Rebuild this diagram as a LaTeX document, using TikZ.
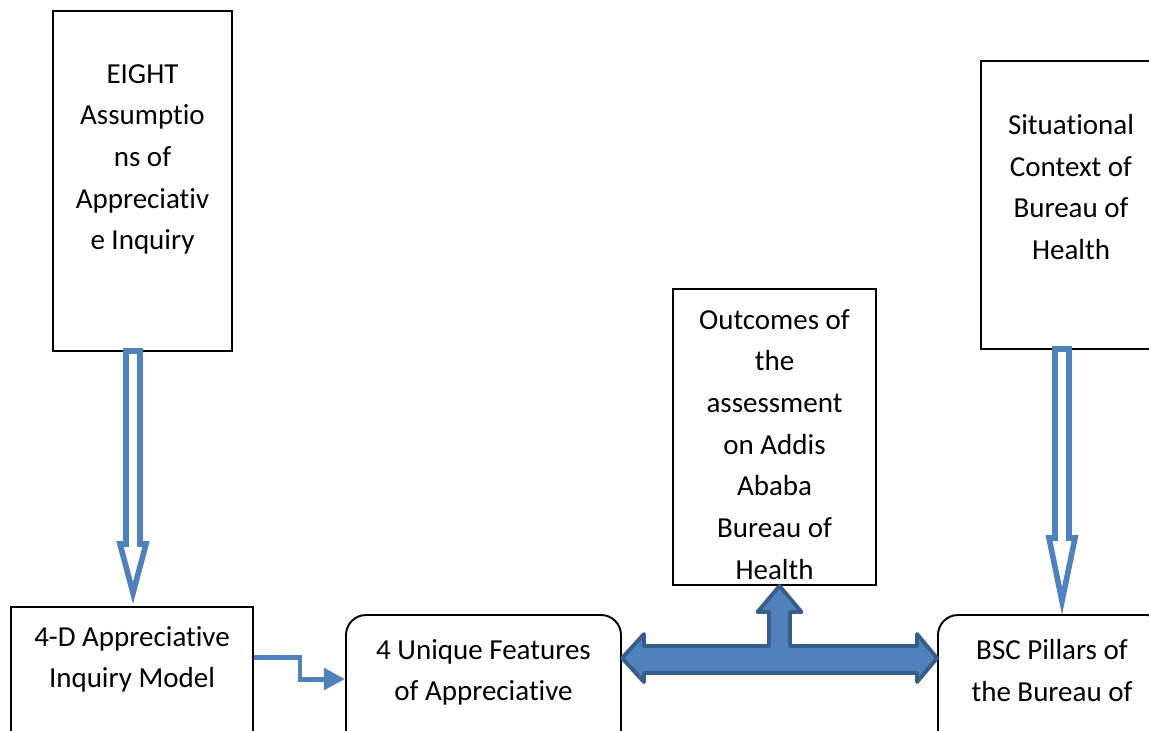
\documentclass[tikz,border=0pt]{standalone}
\usepackage{fontspec}
\setmainfont{Carlito}[RawFeature={-liga,-clig,-calt}]
\usetikzlibrary{arrows.meta,calc}

\definecolor{arrowblue}{HTML}{4F81BD}
\definecolor{arrowedge}{HTML}{385D8A}
\newcommand\pxl{0.02cm}
\newcommand\boxfont{\fontsize{16.5}{23.7}\selectfont}
\tikzset{
  plainbox/.style={draw, line width=1.1pt, inner sep=0pt},
  roundbox/.style={plainbox, rounded corners=0.4cm},
  boxtext/.style={anchor=north, align=center, inner sep=0pt, font=\boxfont, execute at begin node=\strut},
  hollowarrow/.style={draw=arrowblue, line width=3.2pt, fill=white},
  elbowarrow/.style={draw=arrowblue, line width=2.8pt, -{Triangle[length=12pt 0 0,width=12pt 0 0]}},
  teearrow/.style={fill=arrowblue, draw=arrowedge, line width=2.2pt, line join=round},
}
% #1 top point, #2 tip point, #3 head length (px)
\newcommand\hollowdown[3]{
  \draw[hollowarrow] let \p1=#1, \p2=#2 in
    (\x2-7*\pxl,\y1+1*\pxl) -- (\x2-7*\pxl,\y2+#3*\pxl) -- (\x2-13*\pxl,\y2+#3*\pxl)
    -- (\x2,\y2+13*\pxl) -- (\x2+13*\pxl,\y2+#3*\pxl) -- (\x2+7*\pxl,\y2+#3*\pxl)
    -- (\x2+7*\pxl,\y1+1*\pxl) -- cycle ;
}

\begin{document}
\begin{tikzpicture}[x=\pxl, y=-\pxl]
    \useasboundingbox (0,0) rectangle (1149,730) ;
    \clip (0,0) rectangle (1149,730) ;

    % boxes
    \node[plainbox, minimum width=179*\pxl, minimum height=340*\pxl,
      label={[boxtext, yshift=-54*\pxl]north:{EIGHT\\Assumptio\\ns of\\Appreciativ\\e Inquiry}}] (eight) at (142.5,181) {} ;
    \node[plainbox, minimum width=180*\pxl, minimum height=288*\pxl,
      label={[boxtext, yshift=-54*\pxl]north:{Situational\\Context of\\Bureau of\\Health}}] (situ) at (1071,205) {} ;
    \node[plainbox, minimum width=203*\pxl, minimum height=296*\pxl,
      label={[boxtext, yshift=-21*\pxl]north:{Outcomes of\\the\\assessment\\on Addis\\Ababa\\Bureau of\\Health}}] (outc) at (774.5,437) {} ;
    \node[plainbox, minimum width=242*\pxl, minimum height=153*\pxl,
      label={[boxtext, yshift=-20*\pxl]north:{4-D Appreciative\\Inquiry Model}}] (fourd) at (132,683.5) {} ;
    \node[roundbox, minimum width=275*\pxl, minimum height=155*\pxl,
      label={[boxtext, yshift=-25*\pxl]north:{4 Unique Features\\of Appreciative}}] (uniq) at (483.5,692.5) {} ;
    \node[roundbox, minimum width=228*\pxl, minimum height=155*\pxl,
      label={[boxtext, yshift=-25*\pxl]north:{BSC Pillars of\\the Bureau of}}] (bsc) at (1052,692.5) {} ;

    % arrows
    \hollowdown{(eight.south)}{([xshift=1*\pxl]fourd.north)}{62}
    \hollowdown{(situ.south)}{([xshift=10*\pxl]bsc.north)}{76}

    \draw[elbowarrow] ([yshift=-51*\pxl]fourd.north east) -- ++(46,0) |- ([yshift=-65*\pxl]uniq.north west) ;

    \draw[teearrow] let \p1=([yshift=-44*\pxl]uniq.north east), \p2=([yshift=-44*\pxl]bsc.north west),
      \p3=([xshift=5*\pxl]outc.south) in
      (\p1) -- (\x1+22*\pxl,\y1+24*\pxl) -- (\x1+22*\pxl,\y1+12*\pxl)
      -- (\x3-10.5*\pxl,\y1+12*\pxl) -- (\x3-10.5*\pxl,\y3-26*\pxl) -- (\x3-22*\pxl,\y3-26*\pxl)
      -- (\p3) -- (\x3+22*\pxl,\y3-26*\pxl) -- (\x3+10.5*\pxl,\y3-26*\pxl)
      -- (\x3+10.5*\pxl,\y1+12*\pxl) -- (\x2-20*\pxl,\y1+12*\pxl) -- (\x2-20*\pxl,\y1+24*\pxl)
      -- (\p2) -- (\x2-20*\pxl,\y1-24*\pxl) -- (\x2-20*\pxl,\y1-15*\pxl)
      -- (\x1+22*\pxl,\y1-15*\pxl) -- (\x1+22*\pxl,\y1-24*\pxl) -- cycle ;
\end{tikzpicture}
\end{document}
